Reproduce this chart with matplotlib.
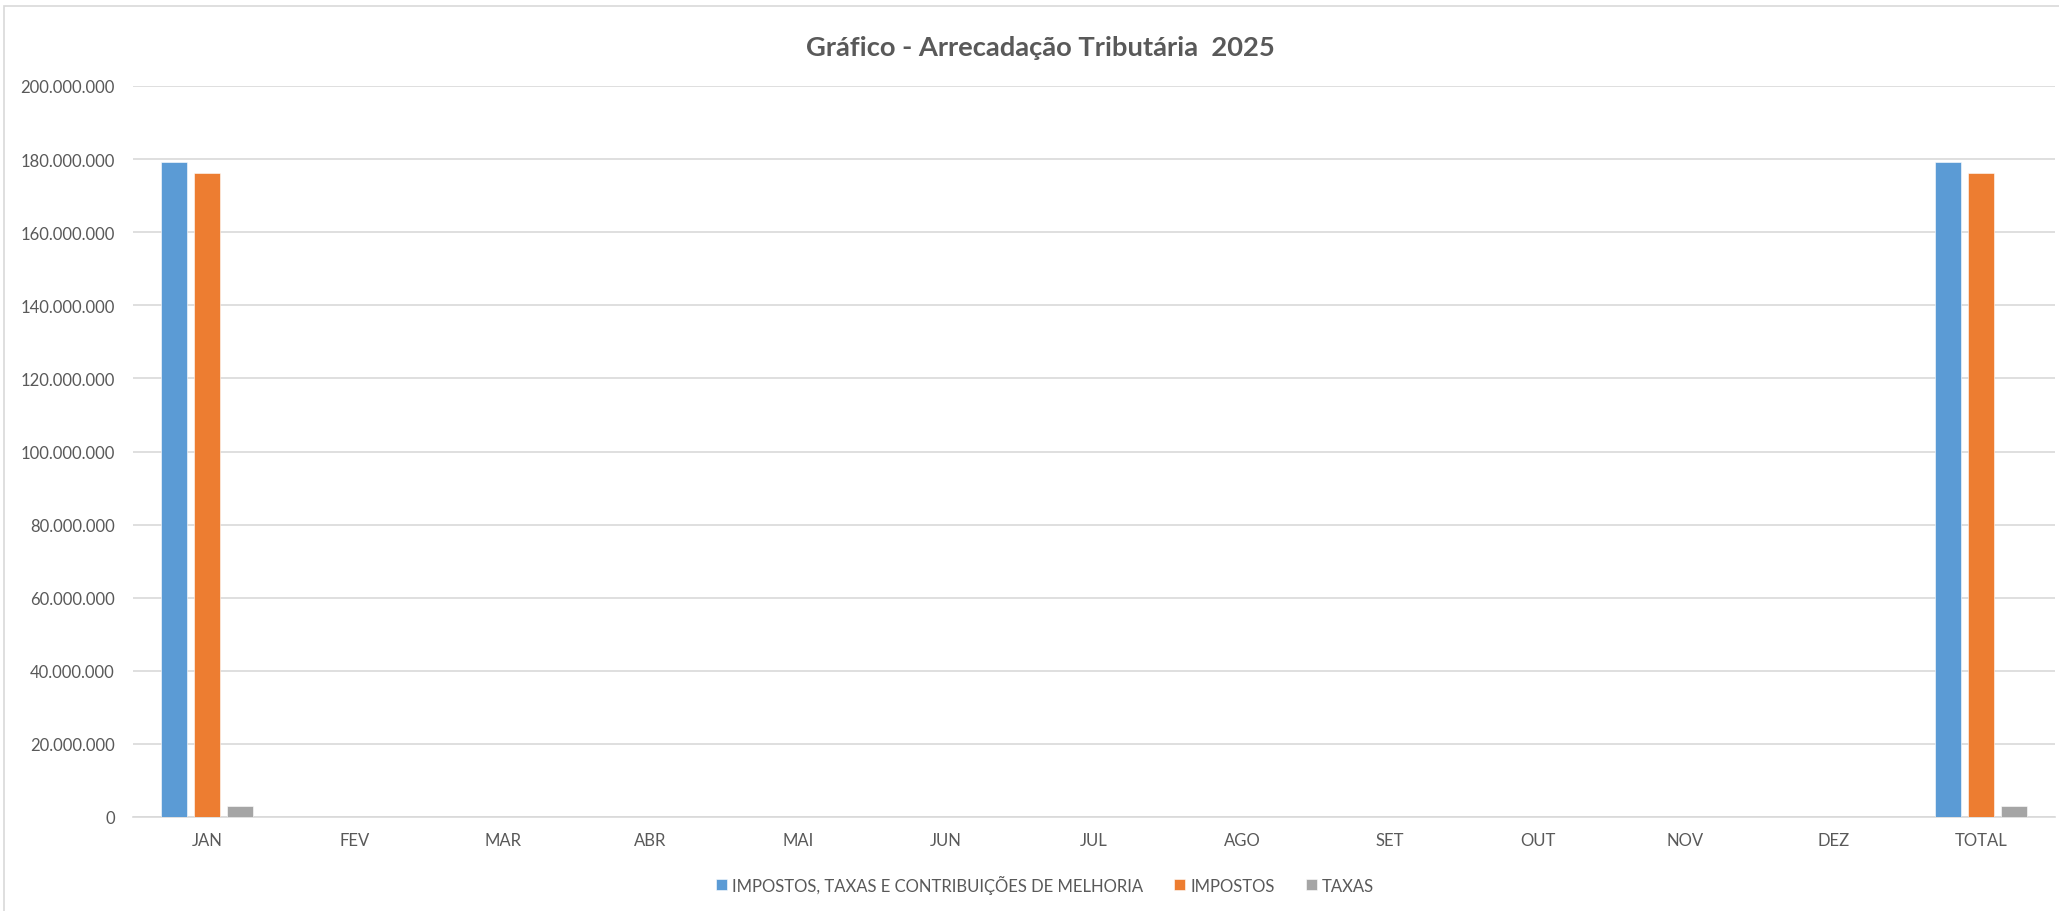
import matplotlib
matplotlib.use("Agg")
import matplotlib.pyplot as plt
from matplotlib.ticker import FuncFormatter, MultipleLocator
from matplotlib.patches import Rectangle
import numpy as np

categorias = ["JAN", "FEV", "MAR", "ABR", "MAI", "JUN", "JUL", "AGO", "SET", "OUT", "NOV", "DEZ", "TOTAL"]
serie_nomes = ["IMPOSTOS, TAXAS E CONTRIBUIÇÕES DE MELHORIA", "IMPOSTOS", "TAXAS"]
impostos_taxas_contrib = [179200000, 0, 0, 0, 0, 0, 0, 0, 0, 0, 0, 0, 179200000]
impostos = [176200000, 0, 0, 0, 0, 0, 0, 0, 0, 0, 0, 0, 176200000]
taxas = [3000000, 0, 0, 0, 0, 0, 0, 0, 0, 0, 0, 0, 3000000]
titulo = "Gráfico - Arrecadação Tributária  2025"

cores = ["#5B9BD5", "#ED7D31", "#A5A5A5"]
texto = "#595959"
grade = "#D9D9D9"

plt.rcParams['font.family'] = ['Lato', 'DejaVu Sans']

W, H = 2059, 912
fig = plt.figure(figsize=(W / 100, H / 100), dpi=100)
ax = fig.add_axes([133 / W, (H - 818) / H, (2055 - 133) / W, (818 - 87) / H])

x = np.arange(len(categorias))
largura = 0.1725
passo = 0.2235
series = [impostos_taxas_contrib, impostos, taxas]
handles = []
for i, (vals, cor, nome) in enumerate(zip(series, cores, serie_nomes)):
    b = ax.bar(x + (i - 1) * passo, vals, width=largura, color=cor, label=nome,
               edgecolor="white", linewidth=0.4, zorder=3)
    handles.append(b)

ax.set_xlim(-0.5, len(categorias) - 0.5)
ax.set_ylim(0, 200000000)
ax.yaxis.set_major_locator(MultipleLocator(20000000))
ax.yaxis.set_major_formatter(FuncFormatter(lambda v, p: f"{v:,.0f}".replace(",", ".")))
ax.set_xticks(x)
ax.set_xticklabels(categorias)
ax.grid(axis="y", color=grade, linewidth=1.2, zorder=0)
for s in ["top", "right", "left"]:
    ax.spines[s].set_visible(False)
ax.spines["bottom"].set_color(grade)
ax.spines["bottom"].set_linewidth(1.2)
ax.tick_params(axis="both", length=0, colors=texto, labelsize=12)
ax.tick_params(axis="y", pad=13)
ax.tick_params(axis="x", pad=11)

fig.text(1040 / W, (H - 56) / H, titulo, ha="center", va="baseline",
         fontsize=19.7, fontweight="bold", color=texto)

leg = fig.legend(handles=handles, labels=serie_nomes, loc="center",
                 bbox_to_anchor=(1045 / W, (H - 885) / H), ncol=3, frameon=False,
                 fontsize=12, handlelength=0.65, handleheight=0.65,
                 handletextpad=0.3, columnspacing=1.9, borderpad=0)
for t in leg.get_texts():
    t.set_color(texto)

fig.patches.append(Rectangle((4 / W, -0.1), 1.2, (H - 7) / H + 0.1, transform=fig.transFigure,
                             fill=False, edgecolor=grade, linewidth=1.2))

fig.savefig("out.png", dpi=100)
